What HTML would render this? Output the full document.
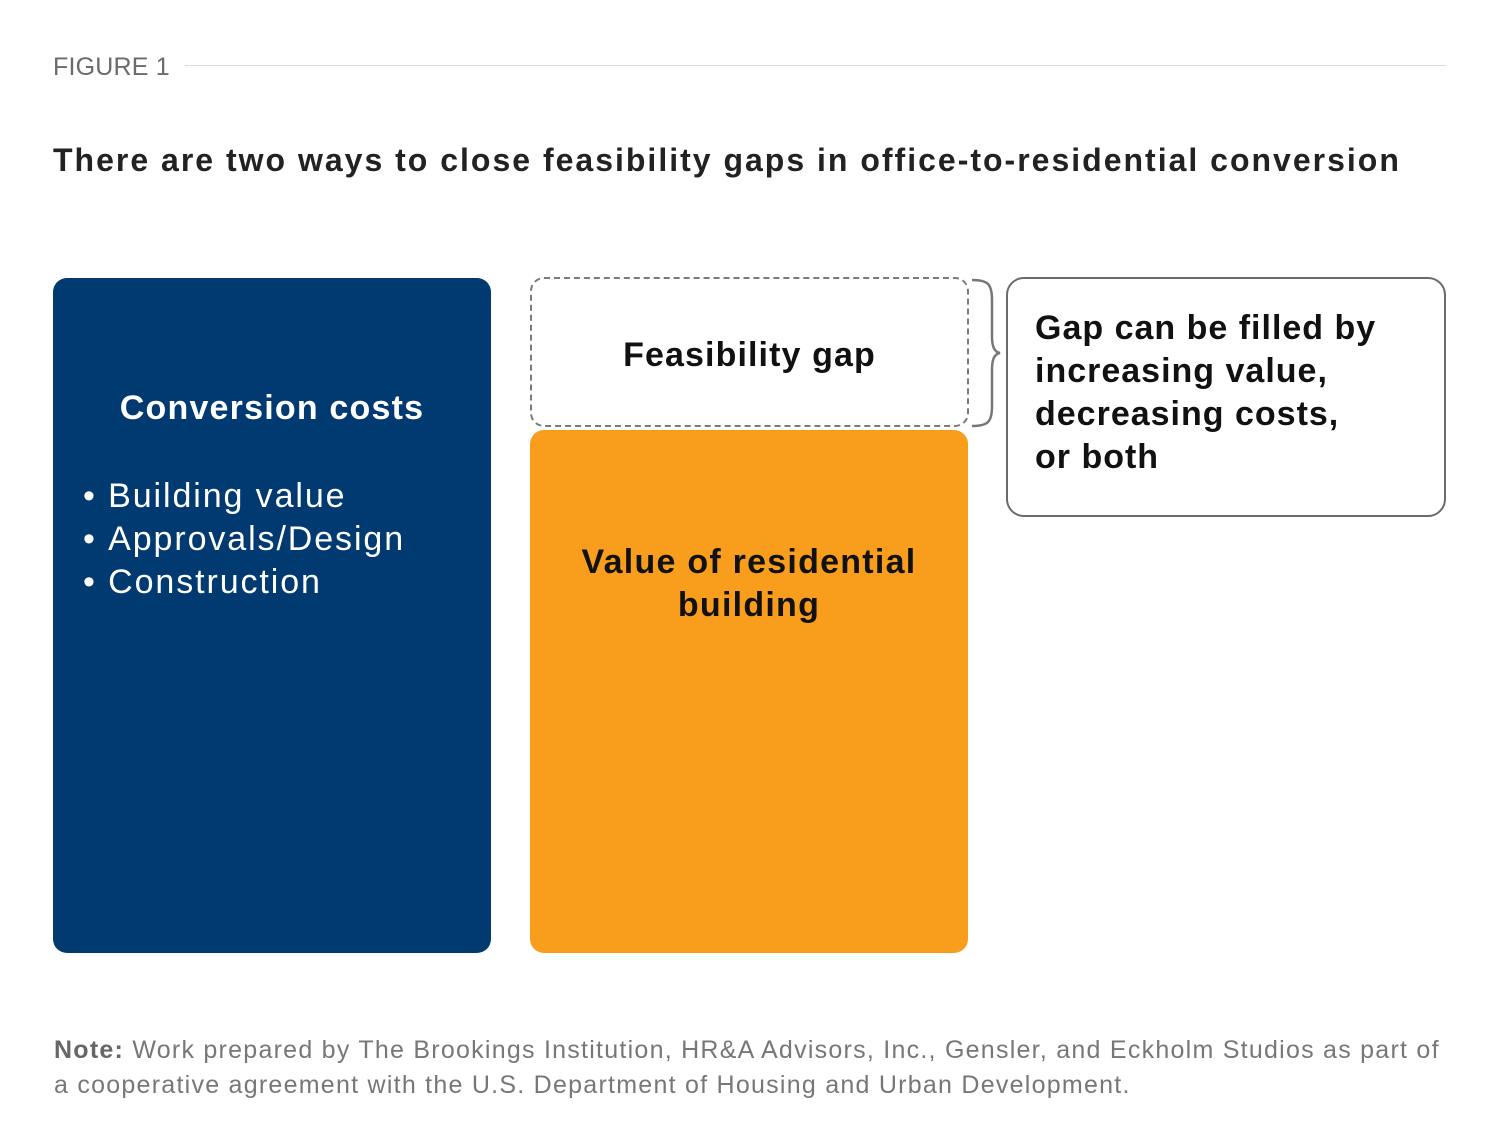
<!DOCTYPE html>
<html><head><meta charset="utf-8"><style>
body{margin:0;width:1500px;height:1147px;background:#fff;font-family:"Liberation Sans",sans-serif;position:relative;overflow:hidden}
.abs{position:absolute}
</style></head><body>
<div class="abs" style="left:53px;top:53px;font-size:25px;color:#6b6b6b;letter-spacing:0.2px">FIGURE 1</div>
<div class="abs" style="left:185px;top:65px;width:1261px;height:1px;background:#ddd"></div>
<div class="abs" style="left:53px;top:142px;font-size:32px;font-weight:bold;color:#222;white-space:nowrap;letter-spacing:2px">There are two ways to close feasibility gaps in office-to-residential conversion</div>

<div class="abs" style="left:53px;top:278px;width:438px;height:675px;background:#003a70;border-radius:14px;color:#fff">
  <div style="position:absolute;top:111px;width:100%;text-align:center;font-weight:bold;font-size:34px;letter-spacing:1.2px">Conversion costs</div>
  <div style="position:absolute;left:30px;top:197px;font-size:34px;line-height:43px;letter-spacing:1.9px;white-space:nowrap">
    <div>•&nbsp;Building value</div>
    <div>•&nbsp;Approvals/Design</div>
    <div>•&nbsp;Construction</div>
  </div>
</div>

<div class="abs" style="left:530px;top:277px;width:435px;height:146px;border:2px dashed #7a7a7a;border-radius:14px;display:flex;align-items:center;justify-content:center;font-weight:bold;font-size:34px;color:#111;letter-spacing:1.1px;padding-top:6px;box-sizing:content-box;height:140px">Feasibility gap</div>

<div class="abs" style="left:530px;top:430px;width:438px;height:523px;background:#f99d1c;border-radius:14px">
  <div style="position:absolute;top:111px;width:100%;text-align:center;font-weight:bold;font-size:34px;line-height:43px;color:#111;letter-spacing:1.25px">Value of residential<br>building</div>
</div>

<svg class="abs" style="left:968px;top:276px" width="40" height="154">
  <path d="M4,4 C20,4 24,8 24,24 L24,60 C24,70 26,76 32,77 C26,78 24,84 24,94 L24,130 C24,146 20,150 4,150" fill="none" stroke="#777" stroke-width="2.5"/>
</svg>

<div class="abs" style="left:1006px;top:277px;width:436px;height:236px;border:2.5px solid #6a6a6a;border-radius:18px">
  <div style="position:absolute;left:27px;top:28px;font-weight:bold;font-size:34px;line-height:43px;color:#111;letter-spacing:1px;white-space:nowrap">Gap can be filled by<br>increasing value,<br>decreasing costs,<br>or both</div>
</div>

<div class="abs" style="left:54px;top:1033px;font-size:25px;line-height:35px;color:#777;width:1440px;letter-spacing:1.25px;white-space:nowrap">
  <b style="color:#666">Note:</b> Work prepared by The Brookings Institution, HR&amp;A Advisors, Inc., Gensler, and Eckholm Studios as part of<br>a cooperative agreement with the U.S. Department of Housing and Urban Development.
</div>
</body></html>
